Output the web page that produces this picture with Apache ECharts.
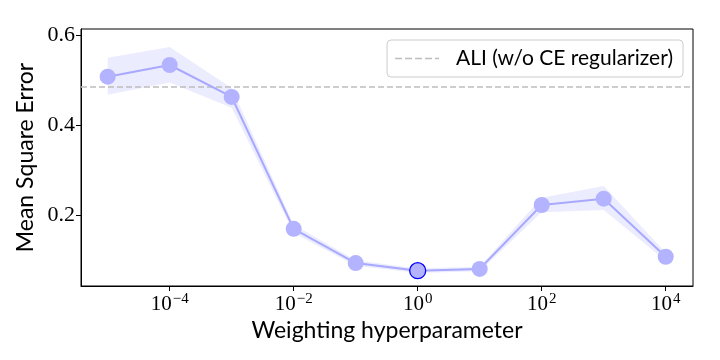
<!DOCTYPE html>
<html><head><meta charset="utf-8">
<script src="https://cdn.jsdelivr.net/npm/echarts@6/dist/echarts.min.js"></script>
<style>html,body{margin:0;padding:0;background:#fff}#c{width:720px;height:360px}</style>
</head><body><div id="c"></div>
<script>
var weights = [1e-5, 1e-4, 1e-3, 1e-2, 1e-1, 1e0, 1e1, 1e2, 1e3, 1e4];
var mse     = [0.507, 0.533, 0.462, 0.169, 0.093, 0.076, 0.080, 0.222, 0.236, 0.107];
var upper   = [0.549, 0.573, 0.482, 0.178, 0.099, 0.081, 0.085, 0.238, 0.264, 0.116];
var lower   = [0.467, 0.494, 0.438, 0.160, 0.087, 0.071, 0.075, 0.206, 0.211, 0.098];
var baseline = 0.484;
var baselineName = 'ALI (w/o CE regularizer)';
var xTickExps = [-4, -2, 0, 2, 4];
var yTicks = [0.2, 0.4, 0.6];
var xMinExp = -5.43, xMaxExp = 4.44;

var lx = weights.map(function(w){ return Math.log10(w); });
var bandData = lx.map(function(x,i){ return [x, lower[i], upper[i]]; });
var mainData = lx.map(function(x,i){
  var d = {value:[x, mse[i]]};
  if (weights[i] === 1) d.itemStyle = {borderColor:'#0000ff', borderWidth:1.3};
  return d;
});

var serif = 'Liberation Serif';
var sans = 'Lato';
var dashIcon = 'path://M0,0h7v1.6h-7z M10,0h7v1.6h-7z M20,0h7v1.6h-7z M30,0h7v1.6h-7z M40,0h4v1.6h-4z';
var chart = echarts.init(document.getElementById('c'), null, {renderer:'canvas'});
chart.setOption({
  animation:false,
  grid:{left:81, right:27, top:29, bottom:74, show:true, borderColor:'#000', borderWidth:1, backgroundColor:'transparent'},
  legend:{
    data:[{name:baselineName, icon:dashIcon, itemStyle:{color:'#bdbdbd'}}],
    right:37, top:40, orient:'horizontal',
    itemWidth:44, itemHeight:14, itemGap:10,
    padding:[8,10,8,8],
    borderColor:'#cccccc', borderWidth:1, borderRadius:4, backgroundColor:'#fff',
    textStyle:{fontFamily:sans, fontSize:21, color:'#000', padding:[0,0,0,12]}
  },
  xAxis:{
    type:'value', min:xMinExp, max:xMaxExp,
    name:'Weighting hyperparameter', nameLocation:'middle', nameGap:26,
    nameTextStyle:{fontFamily:sans, fontSize:23, color:'#000'},
    axisLine:{show:true, onZero:false, lineStyle:{color:'#000', width:1}},
    axisTick:{show:true, inside:false, length:5, lineStyle:{color:'#000'}, customValues:xTickExps},
    axisLabel:{
      customValues:xTickExps, margin:6,
      formatter:function(v){ return '{b|10}{s|' + (v<0 ? '\u2212' + (-v) : v) + '}'; },
      rich:{
        b:{fontFamily:serif, fontSize:21, color:'#000'},
        s:{fontFamily:serif, fontSize:15, color:'#000', padding:[0,0,9,1]}
      }
    },
    splitLine:{show:false}
  },
  yAxis:{
    type:'value', min:0.042, max:0.613,
    name:'Mean Square Error', nameLocation:'middle', nameGap:40,
    nameTextStyle:{fontFamily:sans, fontSize:23, color:'#000'},
    axisLine:{show:true, onZero:false, lineStyle:{color:'#000', width:1}},
    axisTick:{show:true, length:5, lineStyle:{color:'#000'}, customValues:yTicks},
    axisLabel:{customValues:yTicks, margin:6, fontFamily:serif, fontSize:22, color:'#000',
      formatter:function(v){ return v.toFixed(1); }},
    splitLine:{show:false}
  },
  series:[
    {type:'custom', name:'band', data:bandData, silent:true, z:1,
     encode:{x:0, y:[1,2]},
     renderItem:function(params, api){
       if (params.dataIndex !== 0) return null;
       var pts = [], i;
       for (i = 0; i < bandData.length; i++) pts.push(api.coord([bandData[i][0], bandData[i][2]]));
       for (i = bandData.length - 1; i >= 0; i--) pts.push(api.coord([bandData[i][0], bandData[i][1]]));
       return {type:'polygon', shape:{points:pts}, style:{fill:'#ececff', stroke:null}};
     }},
    {type:'line', name:baselineName, data:[[xMinExp, baseline],[xMaxExp, baseline]],
     symbol:'none', lineStyle:{color:'#bdbdbd', width:1.6, type:[6,3]}, itemStyle:{color:'#bdbdbd'}, z:2},
    {type:'line', name:'mse', data:mainData, symbol:'circle', symbolSize:16,
     lineStyle:{color:'#a8a8ff', width:2}, itemStyle:{color:'#b3b3ff', borderWidth:0}, z:3}
  ]
});
</script></body></html>
